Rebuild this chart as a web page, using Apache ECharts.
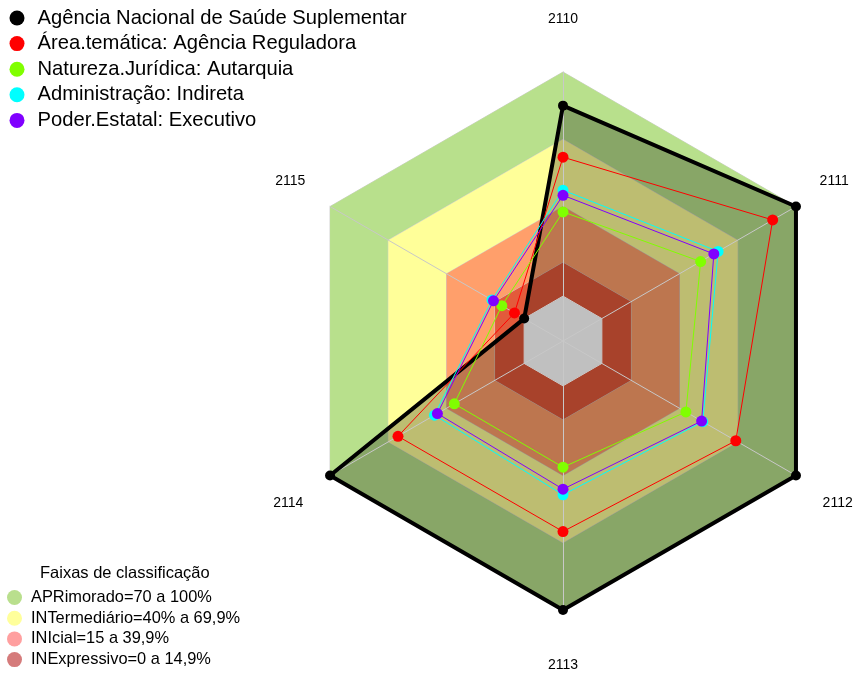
<!DOCTYPE html>
<html>
<head>
<meta charset="utf-8">
<script src="https://cdn.jsdelivr.net/npm/echarts@6/dist/echarts.min.js"></script>
<style>
  html, body { margin: 0; padding: 0; background: #fff; }
  #main { width: 863px; height: 675px; }
</style>
</head>
<body>
<div id="main"></div>
<script>
// eixos do radar (sentido anti-horário a partir do topo)
var indicadores = ['2110', '2115', '2114', '2113', '2112', '2111'];

// séries, na mesma ordem dos indicadores
var nomesSeries = [
  'Agência Nacional de Saúde Suplementar',
  'Área.temática: Agência Reguladora',
  'Natureza.Jurídica: Autarquia',
  'Administração: Indireta',
  'Poder.Estatal: Executivo'
];
var valAgencia = [85, 0, 100, 100, 100, 100];
var valArea = [62, 5, 65, 65, 69, 88];
var valNatureza = [37.6, 11.5, 36, 36.3, 43.3, 50.9];
var valAdmin = [47.3, 16.6, 46.2, 48.6, 52, 59.9];
var valPoder = [45, 15.8, 44.7, 46.1, 51.4, 57.7];
var coresSeries = ['#000000', '#ff0000', '#80ff00', '#00ffff', '#8000ff'];

// faixas de classificação
var nomesFaixas = [
  'APRimorado=70 a 100%',
  'INTermediário=40% a 69,9%',
  'INIcial=15 a 39,9%',
  'INExpressivo=0 a 14,9%'
];
var limitesFaixas = [100, 70, 40, 15];
var coresFaixas = ['#b8e08c', '#ffff99', '#ff9f6b', '#e35a3b'];
var coresLegendaFaixas = ['#b9df8d', '#ffff9b', '#ff9f9f', '#d57b7b'];

var fonte = 'Liberation Sans, Arial, sans-serif';
var chart = echarts.init(document.getElementById('main'));

function repete(v) {
  return indicadores.map(function () { return v; });
}

// estilo do rótulo de cada eixo conforme a posição
var posRotulo = { '2110': 'n', '2111': 'ne', '2112': 'se', '2113': 's', '2114': 'sw', '2115': 'nw' };
function estiloRotulo(pad) {
  return { color: '#000', fontFamily: fonte, fontSize: 14, padding: pad };
}

var series = [];
// faixas (hexágonos)
limitesFaixas.forEach(function (lim, i) {
  series.push({
    type: 'radar', z: 1, silent: true,
    symbol: 'none',
    lineStyle: { color: '#cfcfcf', width: 1 },
    areaStyle: { color: coresFaixas[i], opacity: 1 },
    itemStyle: { color: coresLegendaFaixas[i] },
    data: [{ name: nomesFaixas[i], value: repete(lim) }]
  });
});
// sombra da agência
series.push({
  type: 'radar', z: 2, silent: true, symbol: 'none',
  lineStyle: { width: 0, opacity: 0 },
  areaStyle: { color: 'rgba(0,0,0,0.26)', opacity: 1 },
  data: [{ name: '_sombra', value: valAgencia }]
});
// centro cinza
series.push({
  type: 'radar', z: 3, silent: true, symbol: 'none',
  lineStyle: { color: '#d4d4d4', width: 1 },
  areaStyle: { color: '#c0c0c0', opacity: 1 },
  data: [{ name: '_centro', value: repete(0) }]
});

var valores = [valAgencia, valArea, valNatureza, valAdmin, valPoder];
valores.forEach(function (v, i) {
  series.push({
    type: 'radar', z: 5,
    symbol: 'circle',
    symbolSize: i === 0 ? 10 : 11,
    lineStyle: { color: coresSeries[i], width: i === 0 ? 4 : 1 },
    itemStyle: { color: coresSeries[i], borderWidth: 0 },
    data: [{ name: nomesSeries[i], value: v }]
  });
});

var option = {
  backgroundColor: '#ffffff',
  animation: false,
  title: {
    text: 'Faixas de classificação',
    left: 40, top: 565, padding: 0,
    textStyle: { fontFamily: fonte, fontSize: 16.5, fontWeight: 'normal', color: '#000' }
  },
  legend: [{
    orient: 'vertical', left: 9.5, top: 8, padding: 0,
    itemWidth: 31, itemHeight: 15, itemGap: 5.6,
    icon: 'circle', selectedMode: false,
    textStyle: { fontFamily: fonte, fontSize: 20.2, color: '#000' },
    data: nomesSeries
  }, {
    orient: 'vertical', left: 7, top: 589.5, padding: 0,
    itemWidth: 23, itemHeight: 15, itemGap: 4.7,
    icon: 'circle', selectedMode: false,
    textStyle: { fontFamily: fonte, fontSize: 16.4, color: '#000' },
    data: nomesFaixas.map(function (n, i) {
      return { name: n, itemStyle: { color: coresLegendaFaixas[i], borderWidth: 0 } };
    })
  }],
  radar: {
    z: 4,
    center: [563, 341],
    radius: 269,
    startAngle: 90,
    shape: 'polygon',
    splitNumber: 1,
    nameGap: 10,
    axisName: {
      color: '#000', fontFamily: fonte, fontSize: 14,
      formatter: function (nome) { return '{' + posRotulo[nome] + '|' + nome + '}'; },
      rich: {
        n: estiloRotulo([0, 0, 36, 0]),
        s: estiloRotulo([38, 0, 0, 0]),
        ne: estiloRotulo([0, 0, 41, 15]),
        se: estiloRotulo([45, 0, 0, 18]),
        sw: estiloRotulo([45, 18, 0, 0]),
        nw: estiloRotulo([0, 16, 41, 0])
      }
    },
    axisLine: { lineStyle: { color: '#c8c8c8', width: 1 } },
    axisTick: { show: false },
    splitLine: { show: false },
    splitArea: { show: false },
    indicator: indicadores.map(function (n) { return { name: n, min: -20, max: 100 }; })
  },
  series: series
};
chart.setOption(option);
</script>
</body>
</html>
